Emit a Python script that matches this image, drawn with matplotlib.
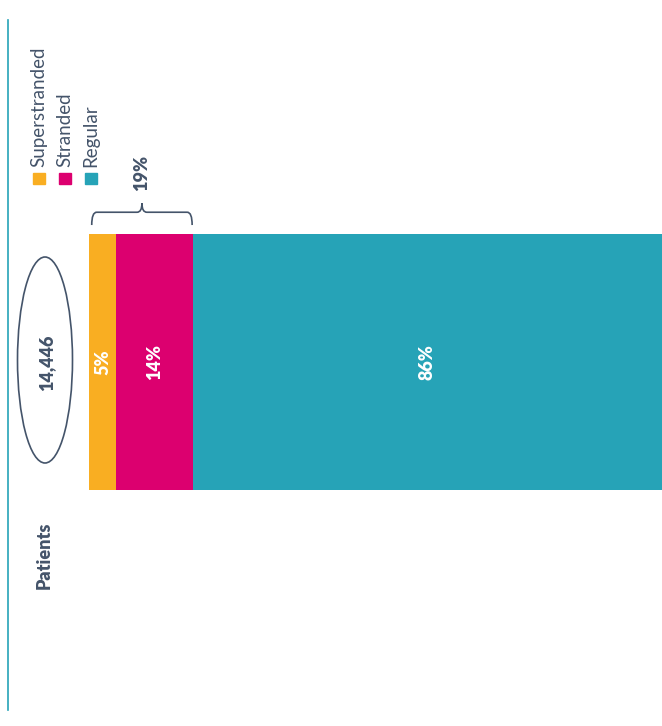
import matplotlib.pyplot as plt
from matplotlib.patches import Ellipse, PathPatch, Rectangle
from matplotlib.path import Path
from matplotlib.lines import Line2D
from matplotlib import transforms

# Data
categories = ['Superstranded', 'Stranded', 'Regular']
shares = [5, 14, 86]
colors = ['#F9AE22', '#DC006F', '#26A3B7']
total_patients = '14,446'
bracket_label = '19%'
row_label = 'Patients'

slate = '#44546A'
plt.rcParams['font.family'] = ['Lato', 'DejaVu Sans']
# bold labels (heavy falls back to the nearest installed bold weight)
bold = dict(fontweight='heavy', fontsize=13)

W, H = 662, 726
fig = plt.figure(figsize=(W / 100, H / 100), dpi=100)


def fx(px):
    return px / W


def fy(py):
    return 1 - py / H


# Stacked bar (drawn horizontally, labels rotated)
ax = fig.add_axes([fx(89), fy(490), fx(662 - 89), 256 / H])
lefts = [sum(shares[:i]) for i in range(len(shares))]
ax.barh(0, shares, left=lefts, height=1, color=colors, edgecolor='none')
ax.set_xlim(0, sum(shares))
ax.set_ylim(-0.5, 0.5)
ax.axis('off')

for left, v in zip(lefts, shares):
    ax.text(left + v / 2, 0, f'{v}%', rotation=90, ha='center', va='center',
            color='white', **bold)

# Curly brace over the stranded + superstranded part
tr = transforms.blended_transform_factory(ax.transData, ax.transAxes)
x0, x1 = 0.5, shares[0] + shares[1] - 0.1
xm = (x0 + x1) / 2
r = 0.9
yb, yl, yt = 1.035, 1.085, 1.12
verts = [(x0, yb), (x0, yl), (x0 + r, yl),
         (xm - r, yl), (xm, yl), (xm, yt),
         (xm, yl), (xm + r, yl),
         (x1 - r, yl), (x1, yl), (x1, yb)]
codes = [Path.MOVETO, Path.CURVE3, Path.CURVE3,
         Path.LINETO, Path.CURVE3, Path.CURVE3,
         Path.CURVE3, Path.CURVE3,
         Path.LINETO, Path.CURVE3, Path.CURVE3]
ax.add_patch(PathPatch(Path(verts, codes), transform=tr, fill=False,
                       edgecolor=slate, lw=1.2, clip_on=False))
ax.text(xm, 1.24, bracket_label, transform=tr, rotation=90, ha='center',
        va='center', color=slate, **bold)

# Legend
for i, (cat, c) in enumerate(zip(categories, colors)):
    cx = 39 + 26 * i
    fig.add_artist(Rectangle((fx(cx - 6), fy(184)), fx(12), 11 / H,
                             transform=fig.transFigure, color=c))
    fig.text(fx(cx), fy(167), cat, rotation=90, ha='center', va='bottom',
             color=slate, fontsize=13.5, fontweight='normal')

# Total patients ellipse
fig.add_artist(Ellipse((fx(45), fy(360)), fx(55), 206 / H,
                       transform=fig.transFigure, fill=False,
                       edgecolor=slate, lw=1.2))
fig.text(fx(47), fy(363), total_patients, rotation=90, ha='center',
         va='center', color=slate, **bold)

fig.text(fx(44), fy(555), row_label, rotation=90, ha='center', va='center',
         color=slate, **bold)

# Left rule
fig.add_artist(Line2D([fx(8), fx(8)], [fy(20), fy(710)],
                      transform=fig.transFigure, color='#26A3B7', lw=1.2))

fig.savefig('out.png', dpi=100)
